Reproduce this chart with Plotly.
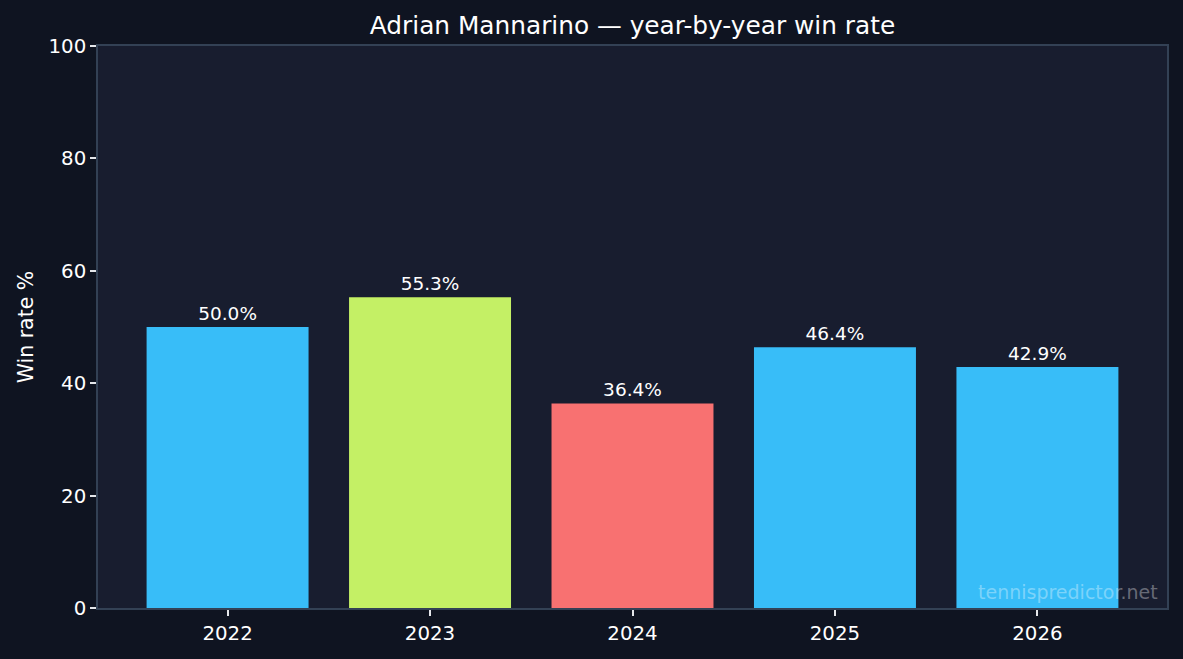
import plotly.graph_objects as go

years = ["2022", "2023", "2024", "2025", "2026"]
win_rate = [50.0, 55.3, 36.4, 46.4, 42.9]
colors = ["#38bdf8", "#c4f065", "#f87171", "#38bdf8", "#38bdf8"]
labels = [f"{v:.1f}%" for v in win_rate]
yticks = [0, 20, 40, 60, 80, 100]

x_num = [int(y) for y in years]

fig = go.Figure()
fig.add_trace(go.Bar(
    x=x_num, y=win_rate, width=0.8,
    marker=dict(color=colors, line=dict(width=0)),
    text=labels, textposition="outside",
    textfont=dict(color="#ffffff", size=18.5, family="DejaVu Sans"),
    cliponaxis=False,
))

fig.update_layout(
    width=1183, height=659,
    paper_bgcolor="#0f1421",
    plot_bgcolor="#181d2f",
    margin=dict(l=98, r=16, t=46, b=51),
    font=dict(family="DejaVu Sans", color="#ffffff", size=20),
    title=dict(text="Adrian Mannarino — year-by-year win rate", xref="paper", x=0.5, xanchor="center",
               yref="container", y=1 - 25 / 659, yanchor="middle", font=dict(size=24.8, color="#ffffff")),
    showlegend=False,
    bargap=0.2,
)
fig.update_xaxes(
    range=[2021.36, 2026.64], tickvals=x_num, ticktext=years,
    showgrid=False, zeroline=False,
    showline=True, linecolor="#334155", linewidth=1.5, mirror=True,
    ticks="outside", ticklen=6, tickcolor="#e5e7eb", tickwidth=1.5,
    tickfont=dict(size=19.8, color="#ffffff"),
)
fig.update_yaxes(
    range=[0, 100], tickvals=yticks,
    showgrid=False, zeroline=False,
    showline=True, linecolor="#334155", linewidth=1.5, mirror=True,
    ticks="outside", ticklen=6, tickcolor="#e5e7eb", tickwidth=1.5,
    tickfont=dict(size=19.8, color="#ffffff"),
    title=dict(text="Win rate %", font=dict(size=20.5, color="#ffffff"), standoff=9),
)
fig.add_annotation(
    text="tennispredictor.net", xref="paper", yref="paper",
    x=0.993, y=0.028, xanchor="right", yanchor="middle", showarrow=False,
    font=dict(size=19, color="rgba(255,255,255,0.35)"),
)

fig.write_html("out.html")
